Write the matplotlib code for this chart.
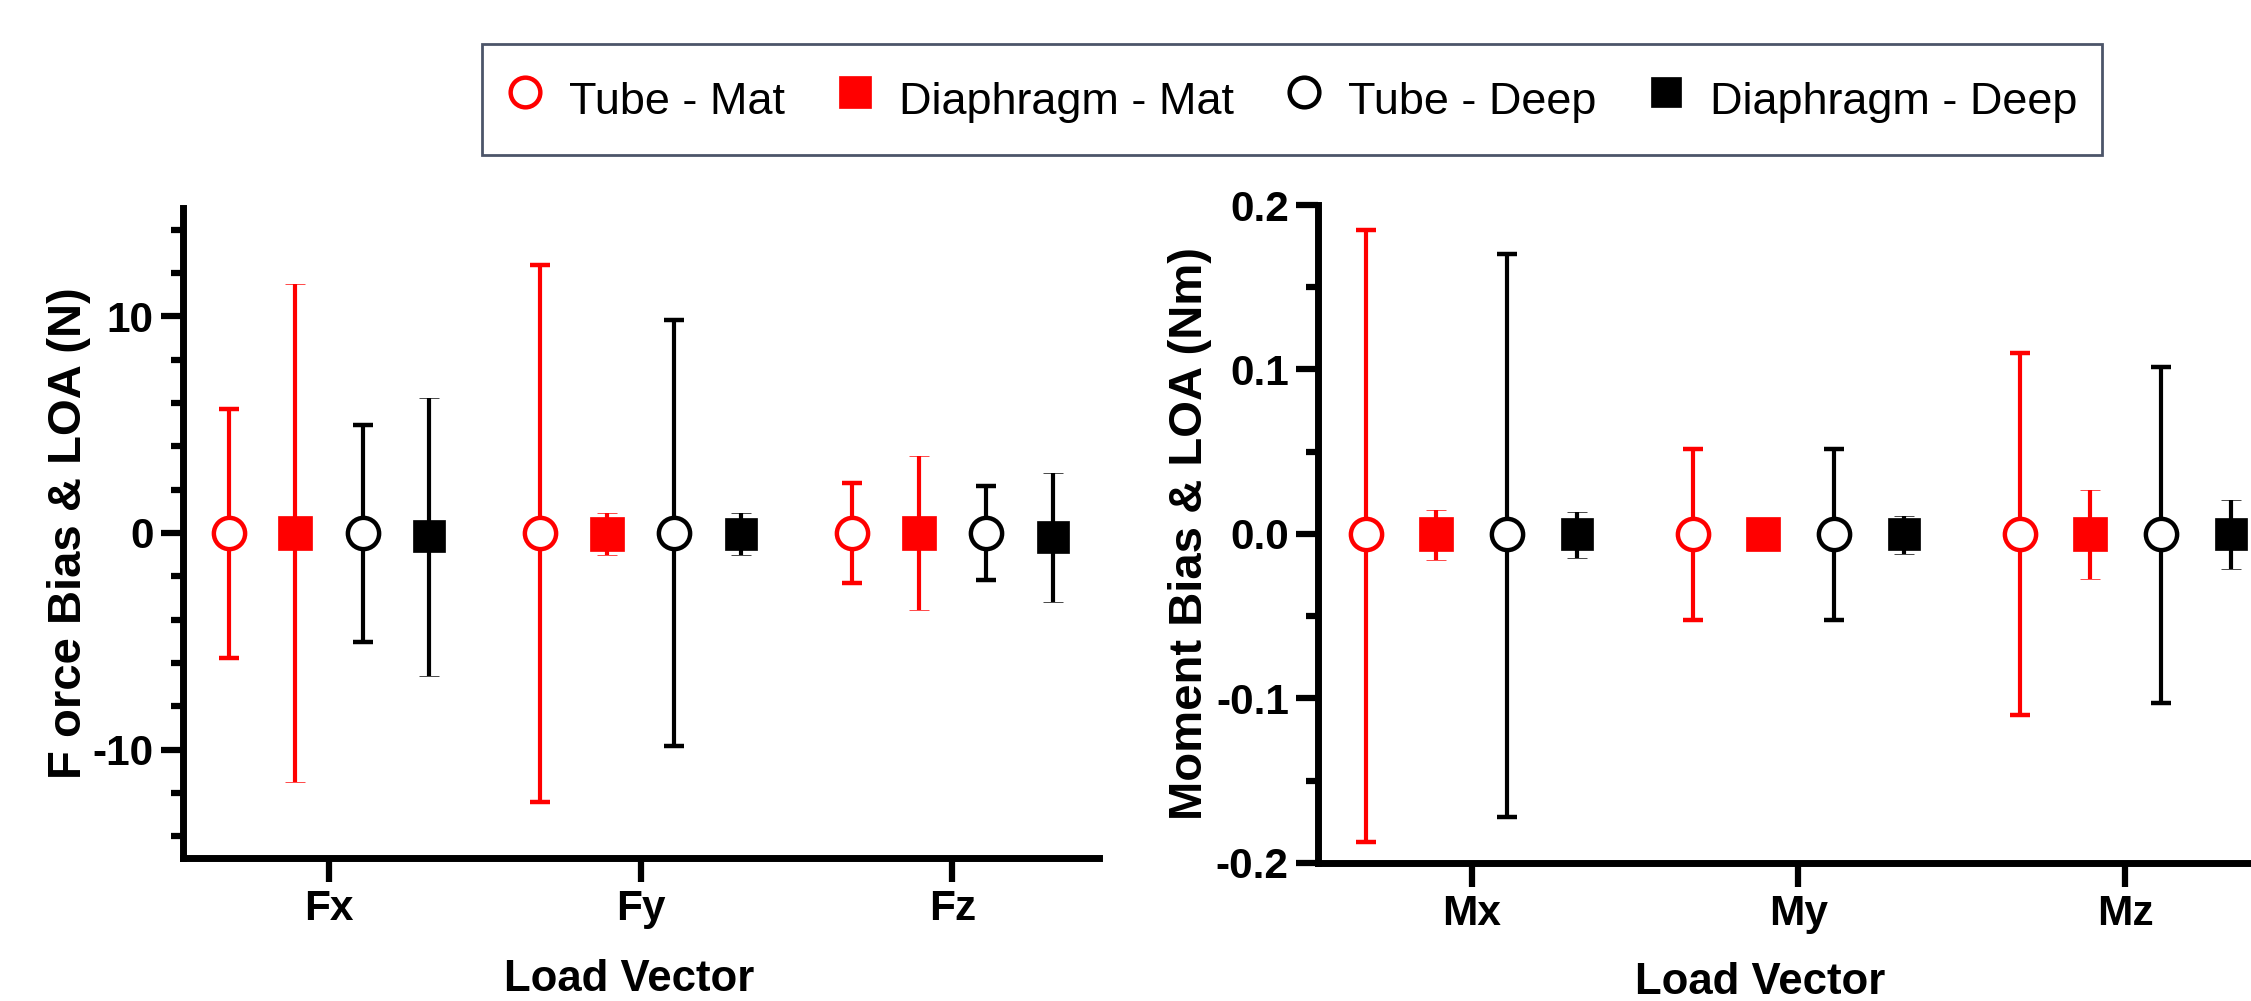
"""
plot.py
=======
Bland-Altman style bias & limits of agreement for force / moment components,
tube vs diaphragm sensors on mat and deep setups.
"""

import matplotlib
matplotlib.use("Agg")
import matplotlib.pyplot as plt
from matplotlib.ticker import MultipleLocator

# ---------------------------------------------------------------------------
# Data (bias, lower LOA, upper LOA) per series, one value per load vector
# ---------------------------------------------------------------------------

series_names = ["Tube - Mat", "Diaphragm - Mat", "Tube - Deep", "Diaphragm - Deep"]

force_labels = ["Fx", "Fy", "Fz"]
force_bias = {
    "Tube - Mat":       [0.0, 0.0, 0.0],
    "Diaphragm - Mat":  [0.0, -0.05, 0.0],
    "Tube - Deep":      [0.0, 0.0, 0.0],
    "Diaphragm - Deep": [-0.15, -0.05, -0.2],
}
force_lower = {
    "Tube - Mat":       [-5.75, -12.4, -2.3],
    "Diaphragm - Mat":  [-11.5, -1.0, -3.55],
    "Tube - Deep":      [-5.05, -9.85, -2.15],
    "Diaphragm - Deep": [-6.6, -1.0, -3.2],
}
force_upper = {
    "Tube - Mat":       [5.7, 12.35, 2.3],
    "Diaphragm - Mat":  [11.5, 0.9, 3.55],
    "Tube - Deep":      [5.0, 9.85, 2.15],
    "Diaphragm - Deep": [6.25, 0.9, 2.75],
}

moment_labels = ["Mx", "My", "Mz"]
moment_bias = {
    "Tube - Mat":       [0.0, 0.0, 0.0],
    "Diaphragm - Mat":  [0.0, 0.0, 0.0],
    "Tube - Deep":      [0.0, 0.0, 0.0],
    "Diaphragm - Deep": [0.0, 0.0, 0.0],
}
moment_lower = {
    "Tube - Mat":       [-0.187, -0.052, -0.110],
    "Diaphragm - Mat":  [-0.0157, -0.004, -0.0272],
    "Tube - Deep":      [-0.172, -0.0525, -0.1025],
    "Diaphragm - Deep": [-0.0145, -0.012, -0.0215],
}
moment_upper = {
    "Tube - Mat":       [0.185, 0.0515, 0.110],
    "Diaphragm - Mat":  [0.0145, 0.004, 0.027],
    "Tube - Deep":      [0.170, 0.0515, 0.1015],
    "Diaphragm - Deep": [0.0135, 0.011, 0.0208],
}

# ---------------------------------------------------------------------------
# Style
# ---------------------------------------------------------------------------

RED, BLACK = "#ff0000", "#000000"
STYLE = {
    "Tube - Mat":       dict(color=RED,   marker="o", mfc="white", ms=22.5, mew=3.2),
    "Diaphragm - Mat":  dict(color=RED,   marker="s", mfc=RED,     ms=24.5, mew=0.5),
    "Tube - Deep":      dict(color=BLACK, marker="o", mfc="white", ms=22.5, mew=3.2),
    "Diaphragm - Deep": dict(color=BLACK, marker="s", mfc=BLACK,   ms=22.5, mew=0.5),
}
OFFSETS = [-0.322, -0.108, 0.108, 0.322]
FS_TICK = 30.5
FS_XLAB = 31.5
FS_YLAB = 34
FS_LEG = 32.4

plt.rcParams["font.family"] = ["Liberation Sans", "DejaVu Sans"]
plt.rcParams["axes.unicode_minus"] = False


def draw_panel(ax, labels, bias, lower, upper):
    for name, off in zip(series_names, OFFSETS):
        st = STYLE[name]
        xs = [i + off for i in range(len(labels))]
        yerr = [[b - lo for b, lo in zip(bias[name], lower[name])],
                [up - b for b, up in zip(bias[name], upper[name])]]
        ax.errorbar(xs, bias[name], yerr=yerr, fmt=st["marker"], color=st["color"],
                    ecolor=st["color"], mec=st["color"], mfc=st["mfc"],
                    ms=st["ms"], mew=st["mew"], elinewidth=3.0,
                    capsize=7, capthick=3.2, label=name)

    ax.set_xlim(-0.47, 2.47)
    ax.set_xticks(range(len(labels)))
    ax.set_xticklabels(labels)
    for side in ("top", "right"):
        ax.spines[side].set_visible(False)
    for side in ("left", "bottom"):
        ax.spines[side].set_linewidth(5)
    ax.tick_params(axis="both", which="major", width=4.5, labelsize=FS_TICK, pad=5)
    ax.tick_params(axis="y", which="major", length=16)
    ax.tick_params(axis="x", which="major", length=17)
    ax.tick_params(axis="y", which="minor", length=9, width=4.5)
    for lbl in ax.get_xticklabels() + ax.get_yticklabels():
        lbl.set_fontweight("bold")
    ax.set_xlabel("Load Vector", fontsize=FS_XLAB, fontweight="bold")


# ---------------------------------------------------------------------------
# Figure
# ---------------------------------------------------------------------------

fig = plt.figure(figsize=(22.51, 10.01), dpi=100)
ax1 = fig.add_axes([0.0811, 0.1429, 0.4070, 0.6493])
ax2 = fig.add_axes([0.5855, 0.1379, 0.4269, 0.6573])

draw_panel(ax1, force_labels, force_bias, force_lower, force_upper)
ax1.set_ylim(-15, 15)
ax1.yaxis.set_major_locator(MultipleLocator(10))
ax1.yaxis.set_minor_locator(MultipleLocator(2))
ax1.set_ylabel("F orce Bias & LOA (N)", fontsize=FS_YLAB, fontweight="bold", labelpad=1)
ax1.xaxis.set_label_coords(0.487, -0.156)

draw_panel(ax2, moment_labels, moment_bias, moment_lower, moment_upper)
ax2.set_ylim(-0.2, 0.2)
ax2.yaxis.set_major_locator(MultipleLocator(0.1))
ax2.yaxis.set_minor_locator(MultipleLocator(0.05))
ax2.set_yticks([-0.2, -0.1, 0.0, 0.1, 0.2])
ax2.set_yticklabels(["-0.2", "-0.1", "0.0", "0.1", "0.2"], fontweight="bold")
ax2.set_ylabel("Moment Bias & LOA (Nm)", fontsize=FS_YLAB, fontweight="bold", labelpad=3)
ax2.xaxis.set_label_coords(0.46, -0.15)

handles, names = ax1.get_legend_handles_labels()
handles = [h[0] for h in handles]
leg = fig.legend(handles, names, loc="center", bbox_to_anchor=(0.574, 0.9006),
                 ncol=4, fontsize=FS_LEG, frameon=True, fancybox=False,
                 handlelength=0.8, handleheight=1.7, handletextpad=0.58,
                 columnspacing=1.15, borderpad=0.55, markerscale=0.95)
leg.get_frame().set_edgecolor("#1f2a44")
leg.get_frame().set_linewidth(2.0)

fig.savefig("out.png", dpi=100)
